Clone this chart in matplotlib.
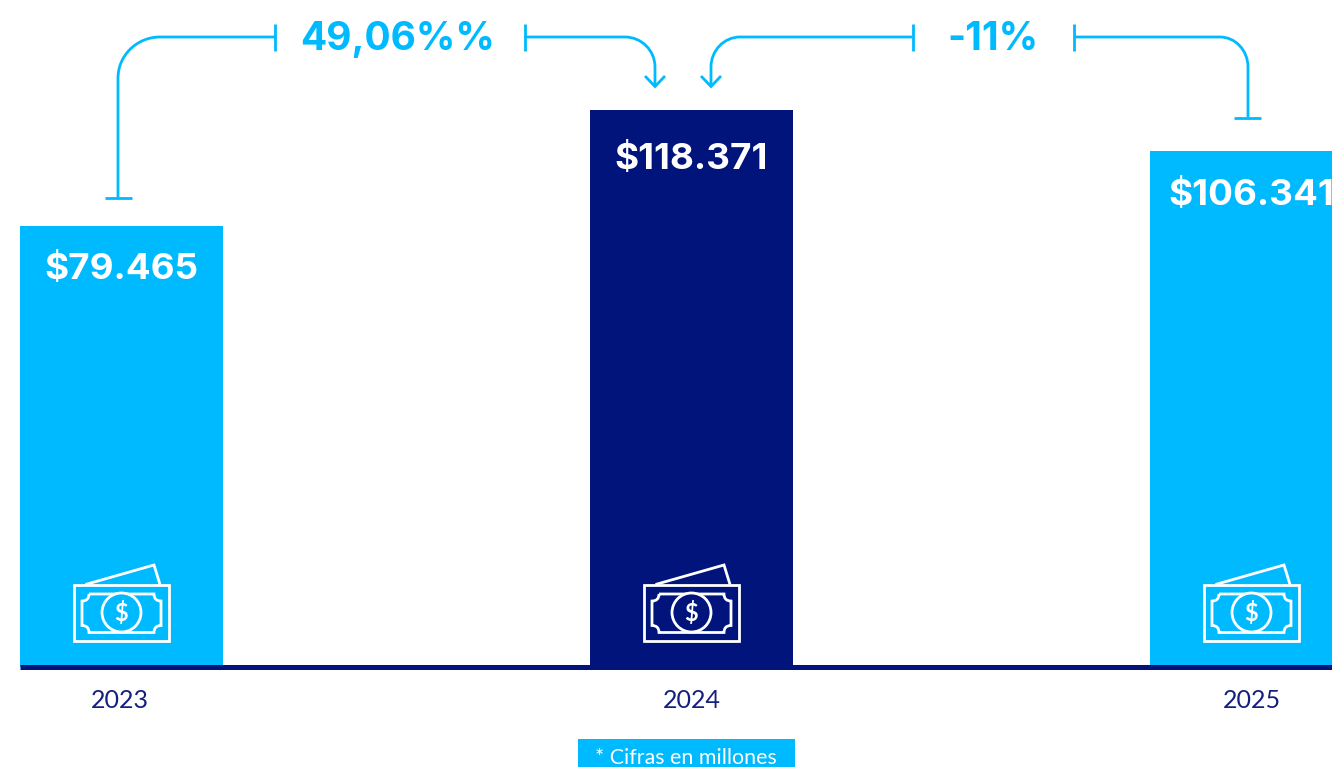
#!/usr/bin/env python3
import matplotlib

matplotlib.use("Agg")
import matplotlib.pyplot as plt
from matplotlib.patches import Circle, PathPatch, Rectangle
from matplotlib.path import Path

years = ["2023", "2024", "2025"]
values = [79465, 118371, 106341]
# the bars in the source are not to scale with their labels, so heights are read off separately
drawn_heights = [440.5, 556.5, 515.5]
changes = ["49,06%%", "-11%"]
note = "* Cifras en millones"

W, H = 1332, 767
BASE_Y = 666.5
CYAN = "#00BAFF"
NAVY = "#00147B"
FONT = "Lato"
BOLD_FONT = "Inter"

bar_left = [20, 590, 1150]
bar_width = 203
label_drop = [43, 49, 44]
tick_x = [120, 692, 1252]
icon_x = [121.5, 691.5, 1251.5]
bar_colors = [CYAN, NAVY, CYAN]


def draw_line(ax, pts, codes=None, color=CYAN, lw=2.0):
    if codes is None:
        codes = [Path.MOVETO] + [Path.LINETO] * (len(pts) - 1)
    ax.add_patch(PathPatch(Path(pts, codes), fill=False, edgecolor=color, linewidth=lw,
                           capstyle="butt", joinstyle="miter"))


def draw_icon(ax, cx, fill):
    white = "white"
    ax.add_patch(Rectangle((cx - 47.5, 585), 94.5, 56, fill=False, edgecolor=white, linewidth=2.0))
    draw_line(ax, [(cx - 36, 584.5), (cx + 32.5, 565), (cx + 38.5, 584.5)], color=white, lw=2.0)
    x0, x1, y0, y1, n = cx - 39.5, cx + 39.5, 594, 632.5, 7
    M, L, C = Path.MOVETO, Path.LINETO, Path.CURVE3
    pts = [
        (x0 + n, y0), (x1 - n, y0),
        (x1 - n, y0 + n), (x1, y0 + n), (x1, y1 - n),
        (x1 - n, y1 - n), (x1 - n, y1), (x0 + n, y1),
        (x0 + n, y1 - n), (x0, y1 - n), (x0, y0 + n),
        (x0 + n, y0 + n), (x0 + n, y0),
    ]
    codes = [M, L, C, C, L, C, C, L, C, C, L, C, C]
    draw_line(ax, pts, codes, color=white, lw=2.0)
    ax.add_patch(Circle((cx, 612.5), 19.5, facecolor=fill, edgecolor=white, linewidth=2.0, zorder=3))
    ax.text(cx, 612.5, "$", color=white, fontsize=17, family=FONT, fontweight="bold",
            ha="center", va="center", zorder=4)


def draw_connectors(ax):
    M, L, C = Path.MOVETO, Path.LINETO, Path.CURVE4
    k = 0.45
    # 2023 to label
    draw_line(ax, [(105, 198), (132, 198)])
    draw_line(ax, [(118, 198), (118, 78), (118, 78 - 41 * (1 - k)), (160 - 42 * (1 - k), 37), (160, 37), (275, 37)],
              [M, L, C, C, C, L])
    draw_line(ax, [(275, 24), (275, 51)])
    # label to 2024
    draw_line(ax, [(524.5, 24), (524.5, 51)])
    draw_line(ax, [(524.5, 37), (625, 37), (625 + 30 * (1 - k), 37), (655, 67 - 30 * (1 - k)), (655, 67), (655, 86)],
              [M, L, C, C, C, L])
    draw_line(ax, [(645, 76), (655, 86.5), (665, 76)])
    # 2025 to 2024
    draw_line(ax, [(912.5, 37), (740, 37), (740 - 29 * (1 - k), 37), (711, 67 - 30 * (1 - k)), (711, 67), (711, 86)],
              [M, L, C, C, C, L])
    draw_line(ax, [(701, 76), (711, 86.5), (721, 76)])
    draw_line(ax, [(912.5, 24), (912.5, 51)])
    # label to 2025
    draw_line(ax, [(1074, 24), (1074, 51)])
    draw_line(ax, [(1074, 37), (1220, 37), (1220 + 28 * (1 - k), 37), (1248, 67 - 30 * (1 - k)), (1248, 67), (1248, 117)],
              [M, L, C, C, C, L])
    draw_line(ax, [(1234, 117.5), (1261, 117.5)])


def main() -> None:
    fig = plt.figure(figsize=(W / 100, H / 100), dpi=100)
    fig.patch.set_facecolor("white")

    ax = fig.add_axes([20 / W, (H - BASE_Y) / H, (W - 20) / W, BASE_Y / H])
    ax.set_xlim(20, W)
    ax.set_ylim(0, BASE_Y)
    ax.bar(bar_left, drawn_heights, width=bar_width, align="edge", color=bar_colors, linewidth=0)
    for spine in ["top", "left", "right"]:
        ax.spines[spine].set_visible(False)
    ax.spines["bottom"].set_color(NAVY)
    ax.spines["bottom"].set_linewidth(3.6)
    ax.spines["bottom"].set_capstyle("butt")
    ax.set_yticks([])
    ax.set_xticks(tick_x)
    ax.set_xticklabels(years, fontsize=18, family=FONT, color="#14207F")
    ax.tick_params(axis="x", length=0, pad=16)

    for left, h, v, drop in zip(bar_left, drawn_heights, values, label_drop):
        label = "$" + f"{v:,}".replace(",", ".")
        ax.text(left + bar_width / 2 - 0.5, h - drop, label, color="white", fontsize=26.5, family=BOLD_FONT,
                fontweight="bold", ha="center", va="center", clip_on=False)

    # overlay in pixel coordinates for the connectors, icons and note
    ov = fig.add_axes([0, 0, 1, 1])
    ov.set_xlim(0, W)
    ov.set_ylim(H, 0)
    ov.axis("off")
    ov.patch.set_alpha(0)

    draw_connectors(ov)
    for cx, color in zip(icon_x, bar_colors):
        draw_icon(ov, cx, color)

    ov.text(398, 40, changes[0], color=CYAN, fontsize=28, family=BOLD_FONT, fontweight="bold", ha="center", va="center")
    ov.text(992.5, 40, changes[1], color=CYAN, fontsize=28, family=BOLD_FONT, fontweight="bold", ha="center", va="center")

    ov.add_patch(Rectangle((578, 739), 217, 28, facecolor=CYAN, edgecolor="none"))
    ov.text(686, 758, note, color="white", fontsize=15.4, family=FONT, ha="center", va="center")

    fig.savefig("out.png", dpi=100)
    plt.close(fig)


if __name__ == "__main__":
    main()
